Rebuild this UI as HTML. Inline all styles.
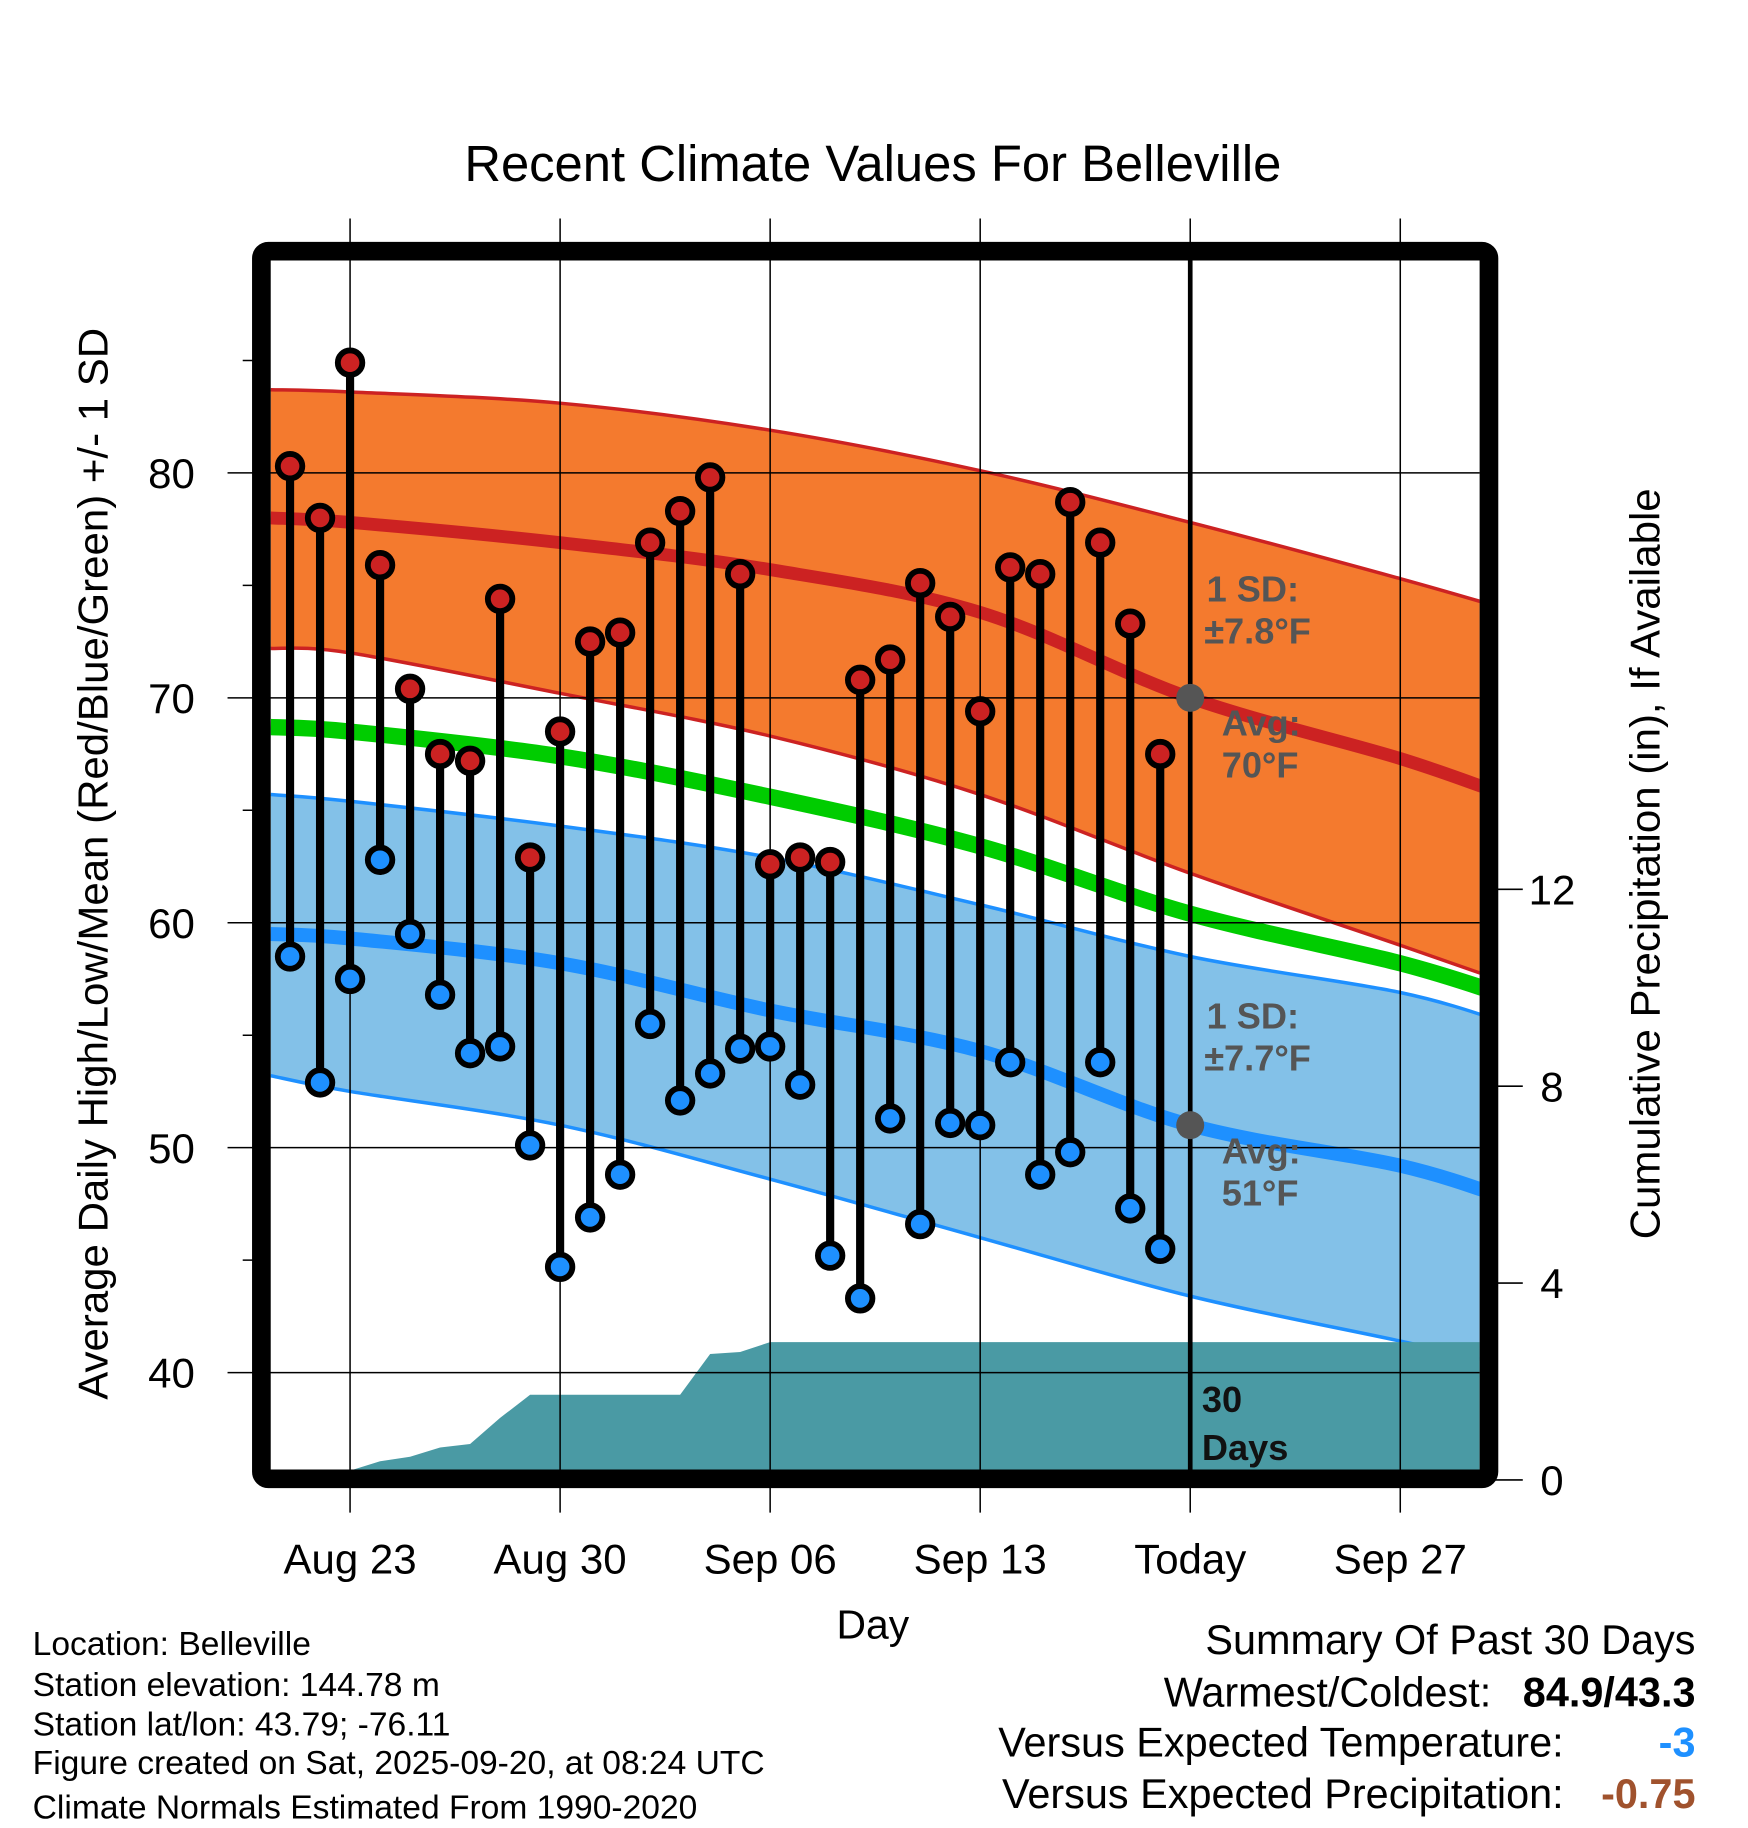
<!DOCTYPE html>
<html><head><meta charset="utf-8"><style>
html,body{margin:0;padding:0;background:#fff;}
svg{display:block;font-family:"Liberation Sans",Arial,sans-serif;}
</style></head><body>
<svg id="chart" width="1748" height="1828" viewBox="0 0 1498 1566" xmlns="http://www.w3.org/2000/svg">
<g id="bands"></g>
<g id="grid"></g>
<g id="annot" font-weight="bold" fill="#555" font-size="31">
<text x="1034" y="515">1 SD:</text>
<text x="1032" y="551">±7.8°F</text>
<text x="1047" y="630">Avg:</text>
<text x="1047" y="666">70°F</text>
<text x="1034" y="881">1 SD:</text>
<text x="1032" y="917">±7.7°F</text>
<text x="1047" y="997">Avg:</text>
<text x="1047" y="1033">51°F</text>
<text x="1030" y="1210" fill="#111">30</text>
<text x="1030" y="1251" fill="#111">Days</text>
</g>
<g id="marks"></g>
<rect x="224" y="215" width="1052" height="1052" rx="6" fill="none" stroke="#000" stroke-width="16"/>
<g id="axes" font-size="36"></g>
<text x="748" y="155" font-size="43.5" text-anchor="middle">Recent Climate Values For Belleville</text>
<text x="748" y="1404" font-size="35" text-anchor="middle">Day</text>
<text transform="translate(92,740) rotate(-90)" font-size="36" text-anchor="middle">Average Daily High/Low/Mean (Red/Blue/Green) +/- 1 SD</text>
<text transform="translate(1422,740) rotate(-90)" font-size="36" text-anchor="middle">Cumulative Precipitation (in), If Available</text>
<g font-size="28.8">
<text x="28" y="1418">Location: Belleville</text>
<text x="28" y="1453">Station elevation: 144.78 m</text>
<text x="28" y="1487">Station lat/lon: 43.79; -76.11</text>
<text x="28" y="1520">Figure created on Sat, 2025-09-20, at 08:24 UTC</text>
<text x="28" y="1558">Climate Normals Estimated From 1990-2020</text>
</g>
<g font-size="35.5">
<text x="1453" y="1417" text-anchor="end">Summary Of Past 30 Days</text>
<text x="1278" y="1462" text-anchor="end">Warmest/Coldest:</text>
<text x="1453" y="1462" text-anchor="end" font-weight="bold">84.9/43.3</text>
<text x="1340" y="1505" text-anchor="end">Versus Expected Temperature:</text>
<text x="1453" y="1505" text-anchor="end" font-weight="bold" fill="#1e90ff">-3</text>
<text x="1340" y="1549" text-anchor="end">Versus Expected Precipitation:</text>
<text x="1453" y="1549" text-anchor="end" font-weight="bold" fill="#a0522d">-0.75</text>
</g>
</svg>
<script>
// Observed data: day offsets from Aug 23 (Aug 21 = -2 ... Sep 19 = 27)
const obsDays = [-2,-1,0,1,2,3,4,5,6,7,8,9,10,11,12,13,14,15,16,17,18,19,20,21,22,23,24,25,26,27];
const highs = [80.3,78.0,84.9,75.9,70.4,67.5,67.2,74.4,62.9,68.5,72.5,72.9,76.9,78.3,79.8,75.5,62.6,62.9,62.7,70.8,71.7,75.1,73.6,69.4,75.8,75.5,78.7,76.9,73.3,67.5];
const lows = [58.5,52.9,57.5,62.8,59.5,56.8,54.2,54.5,50.1,44.7,46.9,48.8,55.5,52.1,53.3,54.4,54.5,52.8,45.2,43.3,51.3,46.6,51.1,51.0,53.8,48.8,49.8,53.8,47.3,45.5];
// Normals at nodes (day offsets from Aug 23)
const normDays = [-2.65,0,7,14,21,28,35,38.65];
const normHigh = [78.0,77.8,76.9,75.7,73.8,70.0,67.3,65.6];
const normHighUp = [83.7,83.6,83.1,81.9,80.1,77.8,75.3,73.9];
const normHighLo = [72.2,72.0,70.2,68.3,65.7,62.2,59.0,57.3];
const normMean = [68.7,68.5,67.4,65.6,63.4,60.4,58.2,56.7];
const normLow = [59.5,59.3,58.2,56.1,54.3,51.0,49.2,47.7];
const normLowUp = [65.7,65.4,64.3,62.9,60.8,58.5,56.9,55.5];
const normLowLo = [53.2,52.5,51.0,48.6,46.0,43.4,41.4,40.3];
// Cumulative precipitation
const precDays = [0,1,2,3,4,5,6,11,12,13,14,38.65];
const precip = [0.19,0.38,0.47,0.66,0.73,1.26,1.73,1.73,2.56,2.6,2.8,2.8];
// Axes
const yTicks = [40,50,60,70,80];
const yMinor = [45,55,65,75,85];
const y2Ticks = [0,4,8,12];
const xTickDays = [0,7,14,21,28,35];
const xTickLabels = ["Aug 23","Aug 30","Sep 06","Sep 13","Today","Sep 27"];
const todayDay = 28;

const NS="http://www.w3.org/2000/svg";
const X=d=>300+d*180/7;
const Y=v=>405+(80-v)*19.275;
const Y2=p=>1268-p*42.18;
const L=232,R=1268,T=222,B=1260;
function mk(tag,parent,attrs){const e=document.createElementNS(NS,tag);for(const k in attrs)e.setAttribute(k,attrs[k]);parent.appendChild(e);return e;}
const bands=document.getElementById('bands'),grid=document.getElementById('grid'),marks=document.getElementById('marks'),axes=document.getElementById('axes');
const clip=mk('clipPath',document.getElementById('chart'),{id:'pc'});mk('rect',clip,{x:L,y:T,width:R-L,height:B-T});
bands.setAttribute('clip-path','url(#pc)');
// smooth curve through points (Catmull-Rom)
function curve(days,arr,move){
 const p=days.map((d,i)=>[X(d),Y(arr[i])]);
 let s=(move?'M':'L')+p[0][0]+','+p[0][1];
 for(let i=0;i<p.length-1;i++){
  const p0=p[i-1]||p[i],p1=p[i],p2=p[i+1],p3=p[i+2]||p[i+1];
  const c1=[p1[0]+(p2[0]-p0[0])/6,p1[1]+(p2[1]-p0[1])/6];
  const c2=[p2[0]-(p3[0]-p1[0])/6,p2[1]-(p3[1]-p1[1])/6];
  s+='C'+c1[0]+','+c1[1]+' '+c2[0]+','+c2[1]+' '+p2[0]+','+p2[1];
 }
 return s;
}
function line(arr){return curve(normDays,arr,true);}
function band(up,lo){
 const rd=normDays.slice().reverse(),rl=lo.slice().reverse();
 return curve(normDays,up,true)+curve(rd,rl,false)+'Z';
}
let e;
e=mk('path',bands,{d:band(normHighUp,normHighLo),fill:'#f47a2e'});

e=mk('path',bands,{d:band(normLowUp,normLowLo),fill:'#83c1e8'});

[[normHighUp,'#cc2222',3,'high-sd-upper'],[normHighLo,'#cc2222',3,'high-sd-lower'],[normLowUp,'#1e90ff',3,'low-sd-upper'],[normLowLo,'#1e90ff',3,'low-sd-lower'],[normHigh,'#cc2222',11,'avg-high-line'],[normMean,'#00cc00',14,'avg-mean-line'],[normLow,'#1e90ff',12,'avg-low-line']].forEach(a=>{
 e=mk('path',bands,{d:line(a[0]),fill:'none',stroke:a[1],'stroke-width':a[2]});
 
});
let pd=precDays.map((d,i)=>(i?'L':'M')+X(d)+','+Y2(precip[i])).join(' ');
pd='M'+X(0)+','+B+'L'+pd.slice(1)+'L'+R+','+Y2(precip[precip.length-1])+'L'+R+','+B+'Z';
e=mk('path',bands,{d:pd,fill:'#4a9aa4'});

// grid
xTickDays.forEach((d,i)=>{
 e=mk('line',grid,{x1:X(d),x2:X(d),y1:187,y2:1296,stroke:'#000','stroke-width':1.3});
 
 e=mk('text',axes,{x:X(d),y:1348,'text-anchor':'middle'});e.textContent=xTickLabels[i];
 
});
yTicks.forEach(v=>{
 e=mk('line',grid,{x1:195,x2:R,y1:Y(v),y2:Y(v),stroke:'#000','stroke-width':1.3});
 
 e=mk('text',axes,{x:167,y:Y(v)+13,'text-anchor':'end'});e.textContent=v;
 
});
yMinor.forEach(v=>{e=mk('line',grid,{x1:208,x2:224,y1:Y(v),y2:Y(v),stroke:'#000','stroke-width':1.3});
 });
y2Ticks.forEach(p=>{
 e=mk('line',axes,{x1:1276,x2:1305,y1:Y2(p),y2:Y2(p),stroke:'#000','stroke-width':1.3});
 
 e=mk('text',axes,{x:1330,y:Y2(p)+13,'text-anchor':'middle'});e.textContent=p;
 
});
e=mk('line',marks,{x1:X(todayDay),x2:X(todayDay),y1:T,y2:B,stroke:'#000','stroke-width':4});

const ti=normDays.indexOf(todayDay);
[normHigh[ti],normLow[ti]].forEach(v=>{e=mk('circle',marks,{cx:X(todayDay),cy:Y(v),r:12,fill:'#555'});
 });
obsDays.forEach((d,i)=>{
 e=mk('line',marks,{x1:X(d),x2:X(d),y1:Y(highs[i]),y2:Y(lows[i]),stroke:'#000','stroke-width':7});
 
 e=mk('circle',marks,{cx:X(d),cy:Y(highs[i]),r:10.5,fill:'#cc2222',stroke:'#000','stroke-width':5});
 
 e=mk('circle',marks,{cx:X(d),cy:Y(lows[i]),r:10.5,fill:'#1e90ff',stroke:'#000','stroke-width':5});
 
});
</script>
</body></html>
